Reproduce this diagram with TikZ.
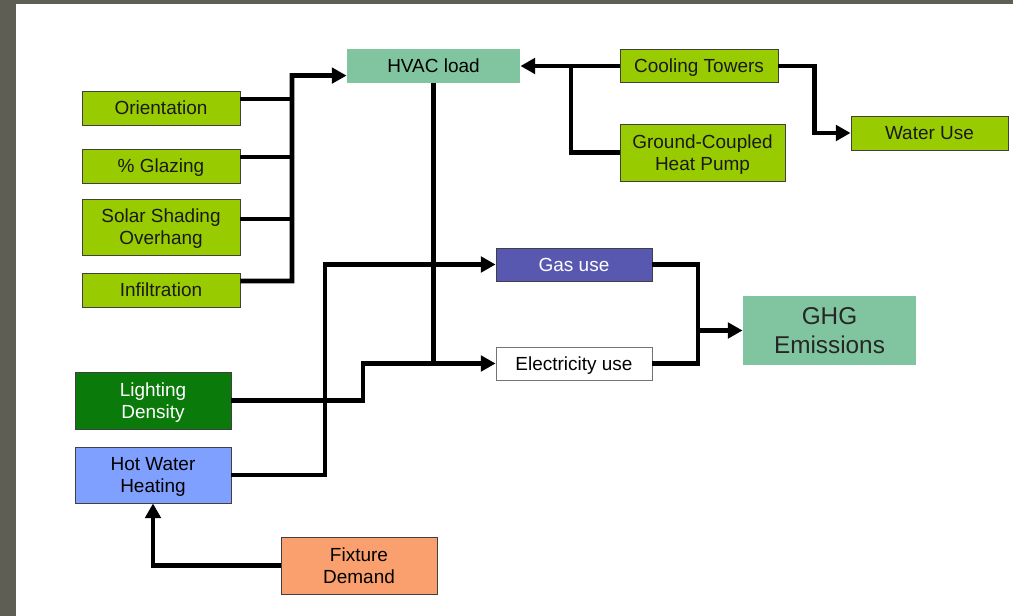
\documentclass[tikz,border=0pt]{standalone}
\usepackage{fontspec}
\setmainfont{Liberation Sans}
\usetikzlibrary{arrows.meta}

\definecolor{slidegray}{RGB}{95,94,84}
\definecolor{lime}{RGB}{153,204,0}
\definecolor{seagreen}{RGB}{128,197,160}
\definecolor{gasblue}{RGB}{88,88,176}
\definecolor{lightgreen}{RGB}{10,122,10}
\definecolor{waterblue}{RGB}{128,160,255}
\definecolor{fixorange}{RGB}{250,160,110}

\tikzset{
  box/.style={rectangle, draw=black!75, line width=0.6pt, align=center, inner sep=0pt,
    text depth=0pt, font=\fontsize{13.5}{15.7}\selectfont},
  limebox/.style={box, fill=lime, text=black!90},
  link/.style={line width=3.4pt},
  >={Triangle[length=10.5pt,width=11pt]}
}

\begin{document}
\begin{tikzpicture}[x=0.025cm,y=-0.025cm]
        % slide frame
        \fill[slidegray] (0,0) rectangle (1013,616);
        \fill[white] (16,4) rectangle (1013,616);
        \useasboundingbox (0,0) rectangle (1013,616);

        \node[box, fill=seagreen, draw=none, minimum width=4.325cm, minimum height=0.825cm] (hvac) at (433.5,66) {HVAC load};

        \node[limebox, minimum width=3.95cm, minimum height=0.85cm] (orient) at (161,108) {Orientation};
        \node[limebox, minimum width=3.95cm, minimum height=0.85cm] (glaz) at (161,166) {\% Glazing};
        \node[limebox, minimum width=3.95cm, minimum height=1.4cm] (solar) at (161,227) {Solar Shading\\Overhang};
        \node[limebox, minimum width=3.95cm, minimum height=0.85cm] (infil) at (161,290) {Infiltration};

        \node[limebox, minimum width=3.95cm, minimum height=0.825cm] (cool) at (699,66) {Cooling Towers};
        \node[limebox, minimum width=4.125cm, minimum height=1.425cm] (ground) at (702.5,152.5) {Ground-Coupled\\Heat Pump};
        \node[limebox, minimum width=3.925cm, minimum height=0.85cm] (water) at (929.5,133) {Water Use};

        \node[box, fill=gasblue, text=white, minimum width=3.9cm, minimum height=0.825cm] (gas) at (574,264.5) {Gas use};
        \node[box, fill=white, draw=black!55, minimum width=3.9cm, minimum height=0.825cm] (elec) at (574,363.5) {Electricity use};
        \node[box, fill=seagreen, draw=none, text=black!85, minimum width=4.325cm, minimum height=1.725cm,
          font=\fontsize{17.3}{20.8}\selectfont] (ghg) at (829.5,330.5) {GHG\\Emissions};

        \node[box, fill=lightgreen, text=white, minimum width=3.9cm, minimum height=1.425cm] (light) at (153,400.5) {Lighting\\Density};
        \node[box, fill=waterblue, minimum width=3.9cm, minimum height=1.4cm] (hotw) at (153,475) {Hot Water\\Heating};
        \node[box, fill=fixorange, minimum width=3.9cm, minimum height=1.425cm] (fix) at (359,565.5) {Fixture\\Demand};

        % bends
        \coordinate (bus) at (292,75.5);
        \coordinate (gbend) at (571,66);
        \coordinate (lbend) at (363,363.5);
        \coordinate (hbend) at (325,264.5);
        \coordinate (ebus) at (698,330.5);

        % building inputs to HVAC
        \draw[link] ([yshift=2.25mm]orient.east) -| (bus);
        \draw[link] ([yshift=2.25mm]glaz.east) -| (bus);
        \draw[link] ([yshift=2mm]solar.east) -| (bus);
        \draw[link, ->] ([yshift=2.25mm]infil.east) -| (bus) -- ([yshift=-2.4mm]hvac.west);

        % plant
        \draw[link, ->] (cool.west) -- (hvac.east);
        \draw[link] (ground.west) -| (gbend);
        \draw[link, ->] (cool.east) -- ++(36,0) |- (water.west);

        % energy use
        \draw[link, ->] (hvac.south) |- (elec.west);
        \draw[link] (light.east) -| (lbend) -- (hvac.south |- elec.west);
        \draw[link, ->] (hotw.east) -| (hbend) -- (gas.west);
        \draw[link, ->] (fix.west) -| (hotw.south);

        % emissions
        \draw[link] (gas.east) -| (ebus);
        \draw[link] (elec.east) -| (ebus);
        \draw[link, ->] (ebus) -- (ghg.west);
\end{tikzpicture}
\end{document}
